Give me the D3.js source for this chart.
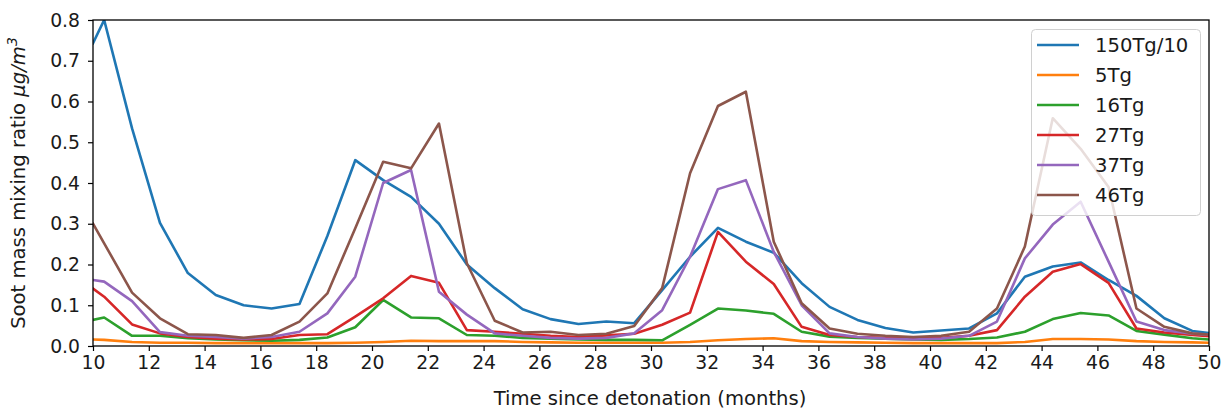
<!DOCTYPE html>
<html><head><meta charset="utf-8">
<script src="https://cdn.jsdelivr.net/npm/d3@7/dist/d3.min.js"></script>
<style>
html,body{margin:0;padding:0;background:#fff;}
svg text{font-family:"DejaVu Sans",sans-serif;fill:#1a1a1a;}
</style></head>
<body><svg id="chart" width="1228" height="410"></svg>
<script>
const months = [10, 10.4, 11.4, 12.4, 13.4, 14.4, 15.4, 16.4, 17.4, 18.4, 19.4, 20.4, 21.4, 22.4, 23.4, 24.4, 25.4, 26.4, 27.4, 28.4, 29.4, 30.4, 31.4, 32.4, 33.4, 34.4, 35.4, 36.4, 37.4, 38.4, 39.4, 40.4, 41.4, 42.4, 43.4, 44.4, 45.4, 46.4, 47.4, 48.4, 49.4, 50];
const seriesNames = ["150Tg/10", "5Tg", "16Tg", "27Tg", "37Tg", "46Tg"];
const s150div10 = [0.743, 0.80, 0.534, 0.302, 0.179, 0.125, 0.10, 0.092, 0.103, 0.27, 0.456, 0.407, 0.366, 0.30, 0.20, 0.142, 0.09, 0.066, 0.054, 0.06, 0.056, 0.137, 0.219, 0.29, 0.256, 0.229, 0.154, 0.096, 0.064, 0.044, 0.033, 0.038, 0.043, 0.08, 0.17, 0.195, 0.205, 0.162, 0.123, 0.068, 0.037, 0.032];
const s5 = [0.016, 0.015, 0.01, 0.008, 0.008, 0.007, 0.007, 0.007, 0.007, 0.007, 0.008, 0.01, 0.013, 0.012, 0.012, 0.012, 0.01, 0.009, 0.008, 0.008, 0.008, 0.008, 0.01, 0.014, 0.017, 0.019, 0.012, 0.01, 0.009, 0.008, 0.007, 0.007, 0.007, 0.007, 0.01, 0.017, 0.017, 0.016, 0.012, 0.01, 0.009, 0.008];
const s16 = [0.064, 0.07, 0.025, 0.025, 0.019, 0.016, 0.014, 0.013, 0.015, 0.021, 0.046, 0.113, 0.07, 0.068, 0.027, 0.025, 0.02, 0.018, 0.016, 0.015, 0.015, 0.014, 0.052, 0.092, 0.087, 0.079, 0.035, 0.023, 0.02, 0.018, 0.016, 0.015, 0.017, 0.021, 0.035, 0.066, 0.081, 0.075, 0.037, 0.028, 0.019, 0.016];
const s27 = [0.141, 0.121, 0.053, 0.031, 0.022, 0.018, 0.016, 0.017, 0.027, 0.029, 0.072, 0.117, 0.172, 0.155, 0.039, 0.035, 0.03, 0.025, 0.022, 0.026, 0.03, 0.052, 0.082, 0.28, 0.207, 0.152, 0.047, 0.027, 0.022, 0.02, 0.018, 0.02, 0.025, 0.039, 0.121, 0.182, 0.201, 0.155, 0.043, 0.033, 0.027, 0.024];
const s37 = [0.162, 0.158, 0.11, 0.034, 0.025, 0.022, 0.018, 0.022, 0.035, 0.08, 0.17, 0.40, 0.432, 0.133, 0.077, 0.031, 0.025, 0.02, 0.018, 0.02, 0.031, 0.088, 0.219, 0.385, 0.407, 0.231, 0.10, 0.031, 0.022, 0.018, 0.016, 0.018, 0.025, 0.06, 0.215, 0.298, 0.354, 0.207, 0.06, 0.039, 0.03, 0.028];
const s46 = [0.30, 0.252, 0.131, 0.068, 0.029, 0.027, 0.02, 0.027, 0.06, 0.129, 0.289, 0.452, 0.436, 0.546, 0.203, 0.062, 0.033, 0.035, 0.027, 0.03, 0.049, 0.142, 0.424, 0.589, 0.624, 0.256, 0.105, 0.043, 0.03, 0.025, 0.022, 0.025, 0.035, 0.092, 0.244, 0.559, 0.484, 0.39, 0.092, 0.047, 0.031, 0.028];
const xTicks = [10, 12, 14, 16, 18, 20, 22, 24, 26, 28, 30, 32, 34, 36, 38, 40, 42, 44, 46, 48, 50];
const yTicks = [0.0, 0.1, 0.2, 0.3, 0.4, 0.5, 0.6, 0.7, 0.8];
const colors = ["#1f77b4", "#ff7f0e", "#2ca02c", "#d62728", "#9467bd", "#8c564b"];

const allSeries = [s150div10, s5, s16, s27, s37, s46];
const W = 1228, H = 410;
const m = {left: 93, right: 19, top: 20, bottom: 64};
const iw = W - m.left - m.right, ih = H - m.top - m.bottom;
const FS = 19.6;
const svg = d3.select("#chart");
const g = svg.append("g").attr("transform", `translate(${m.left},${m.top})`);

const x = d3.scaleLinear().domain([10, 50]).range([0, iw]);
const y = d3.scaleLinear().domain([0, 0.8]).range([ih, 0]);

svg.append("defs").append("clipPath").attr("id", "clip")
  .append("rect").attr("x", 0).attr("y", 0).attr("width", iw).attr("height", ih);

const line = d3.line().x((d, i) => x(months[i])).y(d => y(d));
const lg = g.append("g").attr("clip-path", "url(#clip)");
allSeries.forEach((s, k) => {
  lg.append("path").datum(s).attr("d", line)
    .attr("fill", "none").attr("stroke", colors[k]).attr("stroke-width", 2.6)
    .attr("stroke-linejoin", "round").attr("stroke-linecap", "square");
});

// axes
const xAxis = d3.axisBottom(x).tickValues(xTicks).tickFormat(d3.format("d")).tickSize(5).tickPadding(5);
const yAxis = d3.axisLeft(y).tickValues(yTicks).tickFormat(d3.format(".1f")).tickSize(5).tickPadding(8);
const gx = g.append("g").attr("transform", `translate(0,${ih})`).call(xAxis);
const gy = g.append("g").call(yAxis);
[gx, gy].forEach(a => {
  a.select(".domain").remove();
  a.selectAll(".tick line").attr("stroke", "#000").attr("stroke-width", 1.2);
  a.selectAll(".tick text").attr("font-size", 18.8).attr("font-family", "DejaVu Sans").attr("fill", "#1a1a1a");
});
// frame
g.append("rect").attr("x", 0).attr("y", 0).attr("width", iw).attr("height", ih)
  .attr("fill", "none").attr("stroke", "#000").attr("stroke-width", 1.3);

// axis labels
svg.append("text").attr("x", m.left + iw / 2 - 1).attr("y", 405)
  .attr("text-anchor", "middle").attr("font-size", FS).text("Time since detonation (months)");
const yl = svg.append("text").attr("transform", `translate(25,${m.top + ih / 2}) rotate(-90)`)
  .attr("text-anchor", "middle").attr("font-size", FS);
yl.append("tspan").text("Soot mass mixing ratio ");
yl.append("tspan").attr("font-style", "italic").text("\u03bcg/m");
yl.append("tspan").attr("font-style", "italic").attr("font-size", 14).attr("dy", -8).text("3");

// legend
const lgX = 1031, lgY = 29, lgW = 169, lgH = 186;
svg.append("rect").attr("x", lgX + 0.5).attr("y", lgY + 0.5).attr("width", lgW).attr("height", lgH)
  .attr("rx", 4).attr("fill", "#fff").attr("fill-opacity", 0.8).attr("stroke", "#d0d0d0").attr("stroke-width", 1);
seriesNames.forEach((n, k) => {
  const cy = 45 + k * 30;
  svg.append("line").attr("x1", 1037).attr("x2", 1079).attr("y1", cy).attr("y2", cy)
    .attr("stroke", colors[k]).attr("stroke-width", 2.6);
  svg.append("text").attr("x", 1095).attr("y", cy).attr("dy", "0.36em")
    .attr("font-size", FS).text(n);
});
</script></body></html>
